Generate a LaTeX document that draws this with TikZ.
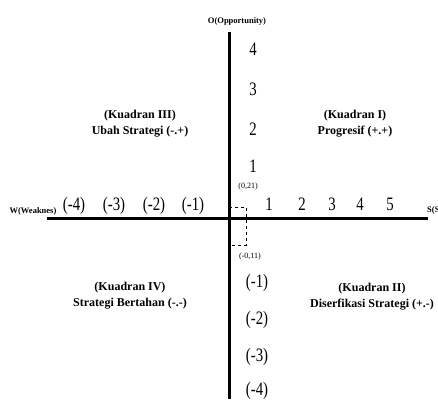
\documentclass[tikz,border=0pt]{standalone}
\usepackage{fontspec}
\setmainfont{Liberation Serif}
\newfontfamily\numfont[FakeStretch=0.78]{Liberation Serif}
\tikzset{axe/.style={
    line width=3pt}}
\tikzset{guide/.style={
  dashed,
  line width=0.8pt}}
\tikzset{num/.style={
  font=\numfont\fontsize{19}{19}\selectfont,
  anchor=base,
  inner sep=0}}
\tikzset{quad/.style={
  font=\bfseries\fontsize{12}{16}\selectfont,
  align=center}}
\tikzset{axlabel/.style={
  font=\bfseries\fontsize{8.5}{9}\selectfont,
  inner sep=0}}
\tikzset{pt/.style={
  font=\fontsize{8}{8}\selectfont,
  inner sep=0}}

\begin{document}
\begin{tikzpicture}[x=1pt, y=-1pt]
  \useasboundingbox (0,0) rectangle (438,399);
  \coordinate (W) at (47,218);
\coordinate (S) at (428,218);
\coordinate (O) at (229,32);
\coordinate (T) at (229,399);

\draw[axe] (W) -- (S);
\draw[axe] (O) -- (T);

  \coordinate (g1) at (229,207);
  \coordinate (g2) at (246,207);
  \coordinate (g3) at (246,245);
  \coordinate (g4) at (229,245);
  \draw[guide] (g1) -- (g2) -- (g3) -- (g4);

\node[axlabel,
  anchor=base] (olab) at (237,23) {O(Opportunity)};

\node[axlabel,
  anchor=base] (wlab) at (33,213) {W(Weaknes)};

\node[axlabel,
  anchor=base west] (slab) at (427,212) {S(S};

  \node[pt] (p1) at (248,187) {(0,21)};
  \node[pt] (p2) at (250,257) {(-0,11)};

  \node[num] (y4) at (253,55) {4};
  \node[num] (y3) at (253,95) {3};
  \node[num] (y2) at (253,135) {2};
  \node[num] (y1) at (253,172) {1};
  \node[num] (ym1) at (257,287) {(-1)};
  \node[num] (ym2) at (257,324) {(-2)};
  \node[num] (ym3) at (257,361) {(-3)};
  \node[num] (ym4) at (257,395) {(-4)};

  \node[num] (xm4) at (74,210) {(-4)};
  \node[num] (xm3) at (114,210) {(-3)};
  \node[num] (xm2) at (154,210) {(-2)};
  \node[num] (xm1) at (193,210) {(-1)};
  \node[num] (x1) at (269,210) {1};
  \node[num] (x2) at (302,210) {2};
  \node[num] (x3) at (332,210) {3};
  \node[num] (x4) at (360,210) {4};
  \node[num] (x5) at (390,210) {5};

\node[quad] (k1) at (355,123.5) {(Kuadran I)\\Progresif (+.+)};
\node[quad] (k2) at (372,297) {(Kuadran II)\\Diserfikasi Strategi (+.-)};
\node[quad] (k3) at (140,123.5) {(Kuadran III)\\Ubah Strategi (-.+)};
\node[quad] (k4) at (130,296) {(Kuadran IV)\\Strategi Bertahan (-.-)};
\end{tikzpicture}
\end{document}
